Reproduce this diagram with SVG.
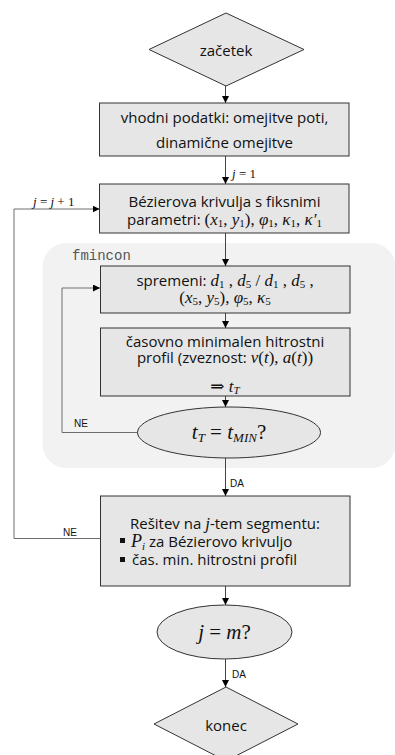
<svg xmlns="http://www.w3.org/2000/svg" width="395" height="755" viewBox="0 0 395 755">
<defs>
<marker id="ah" viewBox="0 0 8 8" refX="8" refY="4" markerWidth="7" markerHeight="7" markerUnits="userSpaceOnUse" orient="auto">
<path d="M0,0 L8,4 L0,8 z" fill="#000"/>
</marker>
<style>
.box{fill:#e6e6e6;stroke:#333;stroke-width:1}
.t{font-family:"Open Sans","Liberation Sans",Arial,sans-serif;font-size:15px;fill:#111;text-anchor:middle}
.ts{font-family:"Open Sans","Liberation Sans",Arial,sans-serif;font-size:15px;fill:#111;text-anchor:start}
.m{font-family:"Liberation Serif","DejaVu Serif",serif;font-style:italic}
.r{font-family:"Liberation Serif","DejaVu Serif",serif;font-style:normal}
.conn{stroke:#444;stroke-width:1;fill:none}
.loop{stroke:#6e6e6e;stroke-width:1;fill:none}
.lbl{font-family:"Liberation Sans",Arial,sans-serif;font-size:10px;fill:#111}
.ml{font-family:"Liberation Serif",serif;font-size:13px;fill:#111}
</style>
</defs>
<rect id="fmincon-region" x="42.5" y="243" width="353" height="225" rx="24" fill="#f2f2f2"/>
<text x="72" y="260" font-family="'Liberation Mono','Courier New',monospace" font-size="14" fill="#555">fmincon</text>

<g id="connectors">
<line class="conn" x1="225.5" y1="86" x2="225.5" y2="103" marker-end="url(#ah)"/>
<line class="conn" x1="225.5" y1="156" x2="225.5" y2="184" marker-end="url(#ah)"/>
<line class="conn" x1="225.5" y1="233" x2="225.5" y2="266" marker-end="url(#ah)"/>
<line class="conn" x1="225.5" y1="313" x2="225.5" y2="328" marker-end="url(#ah)"/>
<line class="conn" x1="225.5" y1="396" x2="225.5" y2="407" marker-end="url(#ah)"/>
<line class="conn" x1="225.5" y1="458" x2="225.5" y2="496" marker-end="url(#ah)"/>
<line class="conn" x1="225.5" y1="586" x2="225.5" y2="605" marker-end="url(#ah)"/>
<line class="conn" x1="225.5" y1="659" x2="225.5" y2="687" marker-end="url(#ah)"/>
<path class="loop" d="M138,432.5 H62 V288 H100" marker-end="url(#ah)"/>
<path class="loop" d="M100,538.5 H14 V209 H99.5" marker-end="url(#ah)"/>
<text class="ml" x="232" y="178"><tspan font-style="italic">j</tspan> = 1</text>
<text class="ml" x="33" y="206"><tspan font-style="italic">j</tspan> = <tspan font-style="italic">j</tspan> + 1</text>
<text class="lbl" x="74" y="427">NE</text>
<text class="lbl" x="230" y="487">DA</text>
<text class="lbl" x="63" y="536">NE</text>
<text class="lbl" x="232" y="678">DA</text>
</g>

<g id="start">
<polygon class="box" points="149,49.5 226,13 304,49.5 226,86"/>
<text class="t" x="226" y="56" font-size="19">začetek</text>
</g>

<g id="input">
<rect class="box" x="99.5" y="103" width="249.5" height="53"/>
<text class="t" x="224.5" y="122.5">vhodni podatki: omejitve poti,</text>
<text class="t" x="224.5" y="148">dinamične omejitve</text>
</g>

<g id="bezier">
<rect class="box" x="99.5" y="184" width="249.5" height="49"/>
<text class="t" x="224.5" y="207">Bézierova krivulja s fiksnimi</text>
<text class="t" x="224.5" y="224.5">parametri: <tspan class="r" font-size="17">(</tspan><tspan class="m" font-size="17">x</tspan><tspan class="r" font-size="11" dy="2">1</tspan><tspan class="r" font-size="17" dy="-2">, </tspan><tspan class="m" font-size="17">y</tspan><tspan class="r" font-size="11" dy="2">1</tspan><tspan class="r" font-size="17" dy="-2">), </tspan><tspan class="m" font-size="17">φ</tspan><tspan class="r" font-size="11" dy="2">1</tspan><tspan class="r" font-size="17" dy="-2">, </tspan><tspan class="m" font-size="17">κ</tspan><tspan class="r" font-size="11" dy="2">1</tspan><tspan class="r" font-size="17" dy="-2">, </tspan><tspan class="m" font-size="17">κ′</tspan><tspan class="r" font-size="11" dy="2">1</tspan></text>
</g>

<g id="variables">
<rect class="box" x="100.5" y="266" width="249.5" height="47"/>
<text class="t" x="225" y="286">spremeni: <tspan class="m" font-size="17">d</tspan><tspan class="r" font-size="11" dy="2">1</tspan><tspan class="r" font-size="17" dy="-2"> , </tspan><tspan class="m" font-size="17">d</tspan><tspan class="r" font-size="11" dy="2">5</tspan><tspan class="r" font-size="17" dy="-2">  / </tspan><tspan class="m" font-size="17">d</tspan><tspan class="r" font-size="11" dy="2">1</tspan><tspan class="r" font-size="17" dy="-2"> , </tspan><tspan class="m" font-size="17">d</tspan><tspan class="r" font-size="11" dy="2">5</tspan><tspan class="r" font-size="17" dy="-2"> ,</tspan></text>
<text class="t" x="225" y="302.5"><tspan class="r" font-size="17">(</tspan><tspan class="m" font-size="17">x</tspan><tspan class="r" font-size="11" dy="2">5</tspan><tspan class="r" font-size="17" dy="-2">, </tspan><tspan class="m" font-size="17">y</tspan><tspan class="r" font-size="11" dy="2">5</tspan><tspan class="r" font-size="17" dy="-2">), </tspan><tspan class="m" font-size="17">φ</tspan><tspan class="r" font-size="11" dy="2">5</tspan><tspan class="r" font-size="17" dy="-2">, </tspan><tspan class="m" font-size="17">κ</tspan><tspan class="r" font-size="11" dy="2">5</tspan></text>
</g>

<g id="profile">
<rect class="box" x="100.5" y="328" width="249.5" height="68"/>
<text class="t" x="225" y="347">časovno minimalen hitrostni</text>
<text class="t" x="225" y="362.5">profil (zveznost: <tspan class="m" font-size="17">v</tspan><tspan class="r" font-size="17">(</tspan><tspan class="m" font-size="17">t</tspan><tspan class="r" font-size="17">), </tspan><tspan class="m" font-size="17">a</tspan><tspan class="r" font-size="17">(</tspan><tspan class="m" font-size="17">t</tspan><tspan class="r" font-size="17">))</tspan></text>
<text class="t" x="225" y="391.5"><tspan class="r" font-size="17">⇒ </tspan><tspan class="m" font-size="17">t</tspan><tspan class="m" font-size="11" dy="2">T</tspan></text>
</g>

<g id="check-tmin">
<ellipse class="box" cx="229" cy="432.5" rx="91.5" ry="25.5"/>
<text class="t" x="229" y="439"><tspan class="m" font-size="21">t</tspan><tspan class="m" font-size="13" dy="3">T</tspan><tspan class="r" font-size="21" dy="-3"> = </tspan><tspan class="m" font-size="21">t</tspan><tspan class="m" font-size="13" dy="3">MIN</tspan><tspan class="r" font-size="21" dy="-3">?</tspan></text>
</g>

<g id="solution">
<rect class="box" x="100.5" y="496" width="249.5" height="90"/>
<text class="t" x="225" y="528.5">Rešitev na <tspan class="m" font-size="17">j</tspan>-tem segmentu:</text>
<rect x="120" y="538" width="5" height="5" fill="#111"/>
<text class="ts" x="131" y="547"><tspan class="m" font-size="18">P</tspan><tspan class="m" font-size="11" dy="3">i</tspan><tspan dy="-3"> za Bézierovo krivuljo</tspan></text>
<rect x="120" y="557" width="5" height="5" fill="#111"/>
<text class="ts" x="132" y="565">čas. min. hitrostni profil</text>
</g>

<g id="check-m">
<ellipse class="box" cx="224.5" cy="632" rx="67.5" ry="27"/>
<text class="t" x="224.5" y="639"><tspan class="m" font-size="21">j</tspan><tspan class="r" font-size="21"> = </tspan><tspan class="m" font-size="21">m</tspan><tspan class="r" font-size="21">?</tspan></text>
</g>

<g id="end">
<polygon class="box" points="154,724 226,687 298,724 226,761"/>
<text class="t" x="226" y="731" font-size="19">konec</text>
</g>
</svg>
